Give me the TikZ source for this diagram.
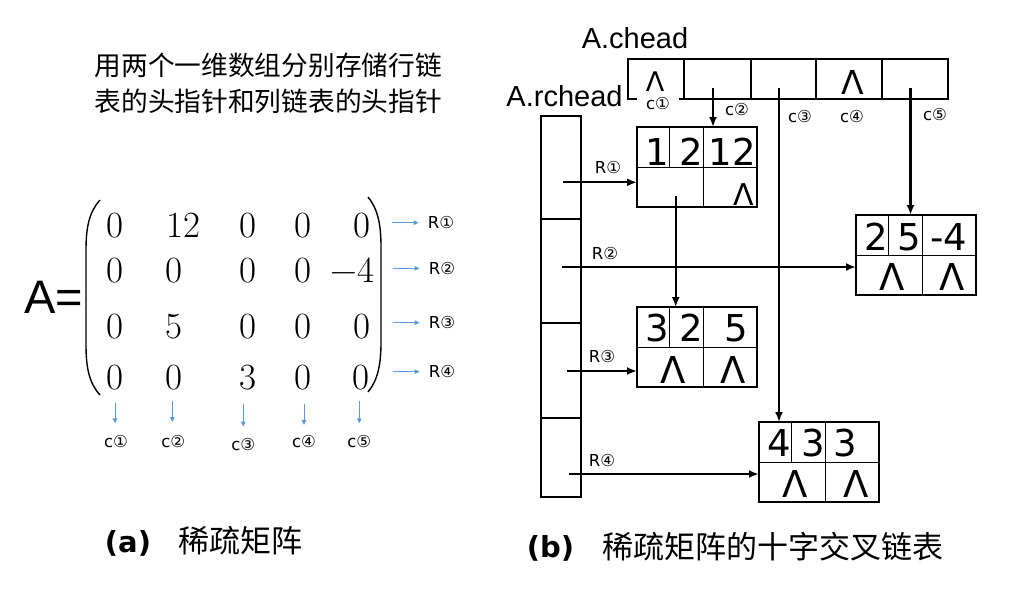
\documentclass[tikz,border=0pt]{standalone}
\usepackage{fontspec}
\usetikzlibrary{arrows.meta}
\newfontfamily\cjk{Noto Sans CJK SC}
\newfontfamily\dv{DejaVu Sans}
\newfontfamily\lib{Liberation Sans}
\definecolor{arrblue}{RGB}{91,155,213}
\newcommand\olnode[3]{%
  \node[olbox, anchor=north west] (#1) at (#2,#3) {};
  \draw[inline] (#1.west) -- (#1.east);
  \draw[inline] ([xshift=32pt]#1.north west) -- ([xshift=32pt]#1.west);
  \draw[inline] ([xshift=66pt]#1.north west) -- ([xshift=66pt]#1.south west);
}
\begin{document}
\begin{tikzpicture}[x=1pt,y=-1pt,
  olbox/.style={draw, line width=1.2pt, minimum width=120pt, minimum height=80pt, inner sep=0pt, outer sep=0pt},
  inline/.style={line width=1pt},
  cell/.style={draw, line width=1.2pt, inner sep=0pt, outer sep=0pt, anchor=north west},
  digit/.style={font=\dv\fontsize{37}{40}\selectfont, anchor=base, inner sep=0pt},
  lam/.style={font=\dv\fontsize{37}{40}\selectfont, anchor=base, inner sep=0pt},
  mat/.style={font=\normalfont\fontsize{37}{40}\selectfont, anchor=base, inner sep=0pt},
  lbl/.style={font=\dv\fontsize{16.5}{16.5}\selectfont, inner xsep=1pt, inner ysep=0pt},
  bluearr/.style={draw=arrblue, line width=1pt, -{Triangle[length=5pt,width=4.5pt]}},
  arr/.style={line width=2.2pt, -{Latex[length=10pt,width=8pt]}},
  paren/.style={line width=1.4pt}
]
\useasboundingbox (0,0) rectangle (1024,608);

% ---------- left part ----------
\node[font=\cjk\fontsize{26.7}{30}\selectfont, inner sep=0pt] (t1) at (268.3,65) {用两个一维数组分别存储行链};
\node[font=\cjk\fontsize{26.7}{30}\selectfont, inner sep=0pt] (t2) at (268.3,101) {表的头指针和列链表的头指针};

\node[font=\lib\fontsize{47}{50}\selectfont, inner sep=0pt] (Aeq) at (54,297) {A=};

\draw[paren] (100,200) .. controls (89,212) and (86,228) .. (86,250) -- (86,345) .. controls (86,367) and (89,383) .. (100,395);
\draw[paren] (368,197) .. controls (378,209) and (381,225) .. (381,247) -- (381,342) .. controls (381,364) and (378,380) .. (368,392);

% row 1
\node[mat] (m11) at (115,237) {0};
\node[mat] (m12) at (183,237) {12};
\node[mat] (m13) at (248.3,237) {0};
\node[mat] (m14) at (303.3,237) {0};
\node[mat] (m15) at (361.7,237) {0};
% row 2
\node[mat] (m21) at (115,282) {0};
\node[mat] (m22) at (174,282) {0};
\node[mat] (m23) at (248.3,282) {0};
\node[mat] (m24) at (303.3,282) {0};
\node[mat] (m25) at (352.8,282) {−4};
% row 3
\node[mat] (m31) at (115,338) {0};
\node[mat] (m32) at (173.5,338) {5};
\node[mat] (m33) at (248.3,338) {0};
\node[mat] (m34) at (303.3,338) {0};
\node[mat] (m35) at (362,338) {0};
% row 4
\node[mat] (m41) at (115,389) {0};
\node[mat] (m42) at (174,389) {0};
\node[mat] (m43) at (248.3,389) {3};
\node[mat] (m44) at (303.3,389) {0};
\node[mat] (m45) at (361.3,389) {0};

% row labels (left)
\node[lbl] (lr1) at (441,222.7) {R①};
\node[lbl] (lr2) at (442,268.3) {R②};
\node[lbl] (lr3) at (442,322.7) {R③};
\node[lbl] (lr4) at (442,371.7) {R④};
\coordinate (br1) at (391.7,222.7);
\coordinate (br2) at (393,268.3);
\coordinate (br3) at (393,322.7);
\coordinate (br4) at (393,371.7);
\draw[bluearr, shorten >=8pt] (br1) -- (lr1.west);
\draw[bluearr, shorten >=8pt] (br2) -- (lr2.west);
\draw[bluearr, shorten >=8pt] (br3) -- (lr3.west);
\draw[bluearr, shorten >=8pt] (br4) -- (lr4.west);

% column labels (left)
\node[lbl] (lc1) at (116,441.7) {c①};
\node[lbl] (lc2) at (173.3,441.7) {c②};
\node[lbl] (lc3) at (243.3,445) {c③};
\node[lbl] (lc4) at (304,441.7) {c④};
\node[lbl] (lc5) at (359.3,441.7) {c⑤};
\coordinate (bc1) at (115,402.7);
\coordinate (bc2) at (172.3,401);
\coordinate (bc3) at (243.3,404);
\coordinate (bc4) at (304,404);
\coordinate (bc5) at (359.3,401);
\draw[bluearr] (bc1) -- (bc1 |- 0,423.3);
\draw[bluearr] (bc2) -- (bc2 |- 0,422);
\draw[bluearr] (bc3) -- (bc3 |- 0,426.7);
\draw[bluearr] (bc4) -- (bc4 |- 0,425);
\draw[bluearr] (bc5) -- (bc5 |- 0,423.3);

% captions
\node[font=\dv\bfseries\fontsize{29}{32}\selectfont, inner sep=0pt] (capa) at (128,543) {(a)};
\node[font=\cjk\fontsize{31}{34}\selectfont, inner sep=0pt] (capat) at (240,541) {稀疏矩阵};
\node[font=\dv\bfseries\fontsize{29}{32}\selectfont, inner sep=0pt] (capb) at (550.5,548) {(b)};
\node[font=\cjk\fontsize{31}{34}\selectfont, inner sep=0pt] (capbt) at (773.4,547) {稀疏矩阵的十字交叉链表};

% ---------- right part ----------
\node[font=\lib\fontsize{29}{32}\selectfont, anchor=base, inner sep=0pt] (chlab) at (635,48.3) {A.chead};
\node[font=\lib\fontsize{29}{32}\selectfont, anchor=base, inner sep=0pt] (rhlab) at (564.5,106) {A.rchead};

% column head array
\node[cell, minimum width=56pt, minimum height=40pt] (ch1) at (628,59) {};
\node[cell, minimum width=67pt, minimum height=40pt] (ch2) at (684,59) {};
\node[cell, minimum width=65pt, minimum height=40pt] (ch3) at (751,59) {};
\node[cell, minimum width=66pt, minimum height=40pt] (ch4) at (816,59) {};
\node[cell, minimum width=66pt, minimum height=40pt] (ch5) at (882,59) {};
\node[font=\dv\fontsize{27}{30}\selectfont, anchor=base, inner sep=0pt] (chl1) at (655,91) {Λ};
\node[font=\dv\fontsize{33}{36}\selectfont, anchor=base, inner sep=0pt] (chl4) at (853,94) {Λ};

% row head array
\node[cell, minimum width=40pt, minimum height=103pt] (rh1) at (541,116) {};
\node[cell, minimum width=40pt, minimum height=104pt] (rh2) at (541,219) {};
\node[cell, minimum width=40pt, minimum height=95pt] (rh3) at (541,323) {};
\node[cell, minimum width=40pt, minimum height=79pt] (rh4) at (541,418) {};

% column labels (right)
\node[lbl, fill=white, inner xsep=9pt] (rc1) at (658,103.5) {c①};
\node[lbl] (rc2) at (737,110) {c②};
\node[lbl] (rc3) at (800,117) {c③};
\node[lbl] (rc4) at (852,117) {c④};
\node[lbl] (rc5) at (935,115) {c⑤};

% row labels (right)
\node[lbl] (rr1) at (608,167) {R①};
\node[lbl] (rr2) at (605,253) {R②};
\node[lbl] (rr3) at (602,356) {R③};
\node[lbl] (rr4) at (602,460) {R④};

% list nodes
\olnode{n1}{637}{127}
\olnode{n2}{856}{215}
\olnode{n3}{637}{307}
\olnode{n4}{759}{422}

\node[digit] (n1a) at (657,165.5) {1};
\node[digit] (n1b) at (691,165.5) {2};
\node[digit] (n1c) at (732,165.5) {12};
\node[font=\dv\fontsize{30}{32}\selectfont, anchor=base, inner sep=0pt] (n1r) at (744,205) {Λ};

\node[digit] (n2a) at (876.5,250) {2};
\node[digit] (n2b) at (909.5,250) {5};
\node[digit] (n2c) at (949,250) {-4};
\node[lam] (n2d) at (891.7,290.5) {Λ};
\node[lam] (n2r) at (951.7,290.5) {Λ};

\node[digit] (n3a) at (657.5,341.7) {3};
\node[digit] (n3b) at (691,341.7) {2};
\node[digit] (n3c) at (736,341.7) {5};
\node[lam] (n3d) at (673,383) {Λ};
\node[lam] (n3r) at (733.5,383) {Λ};

\node[digit] (n4a) at (779.5,456.7) {4};
\node[digit] (n4b) at (813,456.7) {3};
\node[digit] (n4c) at (845.5,456.7) {3};
\node[lam] (n4d) at (795,497.5) {Λ};
\node[lam] (n4r) at (856,497.5) {Λ};

% column pointers
\coordinate (s2) at (713,88);
\coordinate (s3) at (779,88);
\coordinate (s5) at (910.5,88);
\coordinate (s6) at (675.7,196);
\draw[arr] (s2) -- (s2 |- n1.north);
\draw[arr] (s3) -- (s3 |- n4.north);
\draw[arr] (s5) -- (s5 |- n2.north);
\draw[arr] (s6) -- (s6 |- n3.north);

% row pointers
\coordinate (r1) at (563,182.3);
\coordinate (r2) at (562,267);
\coordinate (r3) at (567,371);
\coordinate (r4) at (569,474);
\draw[arr] (r1) -- (r1 -| n1.west);
\draw[arr] (r2) -- (r2 -| n2.west);
\draw[arr] (r3) -- (r3 -| n3.west);
\draw[arr] (r4) -- (r4 -| n4.west);
\end{tikzpicture}
\end{document}
